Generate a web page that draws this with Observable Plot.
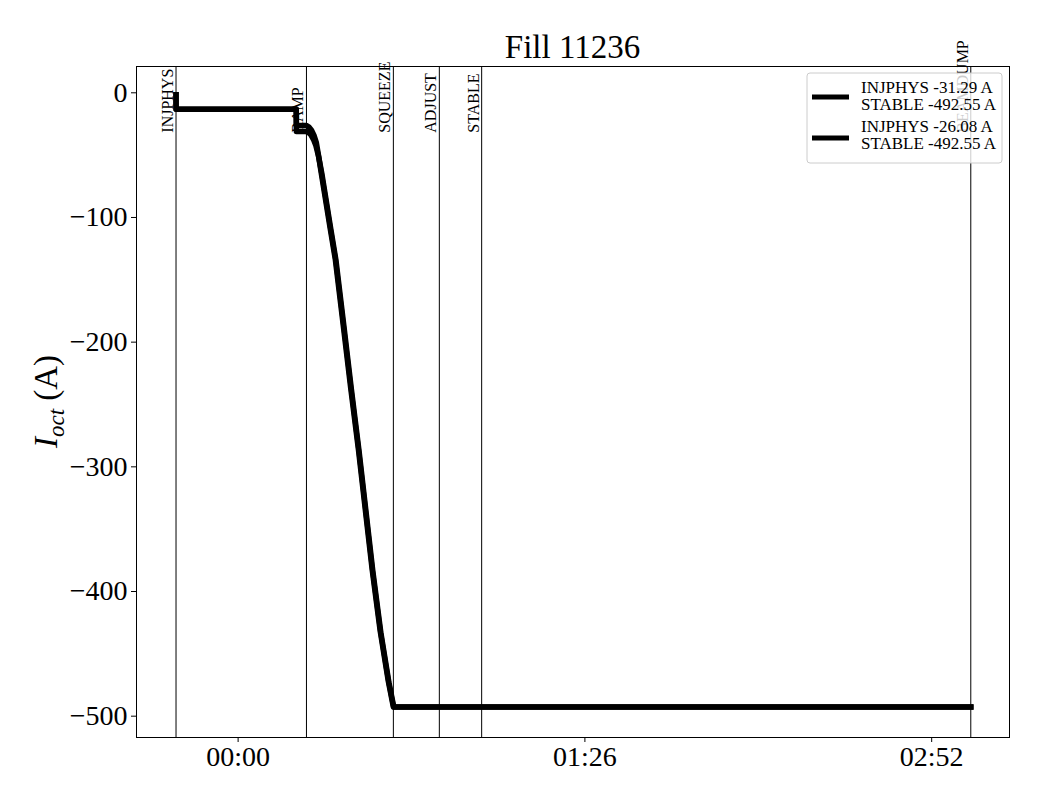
<!DOCTYPE html>
<html><head><meta charset="utf-8">
<script src="https://cdn.jsdelivr.net/npm/d3@7"></script>
<script src="https://cdn.jsdelivr.net/npm/@observablehq/plot@0.6"></script>
<style>
body{margin:0;background:#fff;}
#chart{position:relative;width:1040px;height:800px;}
</style></head><body><div id="chart"></div>
<script>
const title = "Fill 11236";
const eventNames = ["INJPHYS", "RAMP", "SQUEEZE", "ADJUST", "STABLE", "BEAMDUMP"];
const eventMinutes = [-15.4, 16.95, 38.5, 49.9, 60.4, 181.7];
const eventLabelValue = -32;
const seriesLabels = [["INJPHYS -31.29 A", "STABLE -492.55 A"], ["INJPHYS -26.08 A", "STABLE -492.55 A"]];
const seriesAMinutes = [-15.4, -15.38, 14.42, 14.45, 16.9, 17.5, 18.1, 18.7, 19.3, 19.95, 20.75, 21.75, 23.0, 24.25, 26.3, 28.1, 30.0, 31.7, 33.4, 35.4, 37.4, 38.6, 181.7];
const seriesAValues  = [-1.5, -13.2, -13.2, -31.0, -31.0, -32.0, -34.0, -37.5, -42.5, -51.0, -64.5, -84.5, -109.5, -134, -189, -238, -287.5, -335.5, -383.5, -433, -473, -492.55, -492.55];
const seriesBMinutes = [-15.4, -15.38, 14.42, 14.45, 16.9, 17.6, 18.2, 18.8, 19.4, 19.9, 20.6, 21.6, 22.85, 24.1, 26.15, 27.95, 29.85, 31.55, 33.25, 35.25, 37.25, 38.5, 181.7];
const seriesBValues  = [-1.5, -13.2, -13.2, -26.2, -26.2, -27.5, -30.0, -34.0, -40.0, -49.5, -64, -84, -109, -133.5, -188.5, -237.5, -286.5, -334.5, -382.5, -432, -472, -492.55, -492.55];
const xTickMinutes = [0, 86, 172];
const xTickLabels = ["00:00", "01:26", "02:52"];
const yTicks = [0, -100, -200, -300, -400, -500];

const rows = [
  ...seriesAMinutes.map((t, i) => ({t, v: seriesAValues[i], s: 0})),
  ...seriesBMinutes.map((t, i) => ({t, v: seriesBValues[i], s: 1}))
];
const events = eventNames.map((name, i) => ({name, t: eventMinutes[i]}));

const ML = 136, MR = 31, MT = 66, MB = 63, W = 1040, H = 800;
const font = "'Liberation Serif', 'DejaVu Serif', serif";

const plot = Plot.plot({
  width: W, height: H,
  marginLeft: ML, marginRight: MR, marginTop: MT, marginBottom: MB,
  style: {fontFamily: font, background: "white", color: "black", overflow: "visible"},
  x: {domain: [-25.2, 191.3]},
  y: {domain: [-517.1, 21.1]},
  marks: [
    Plot.ruleX(events, {x: "t", stroke: "black", strokeWidth: 1}),
    Plot.text(events, {x: "t", y: () => eventLabelValue, text: "name", rotate: -90, textAnchor: "start", lineAnchor: "bottom", dx: -3, fontSize: 16, fill: "black"}),
    Plot.line(rows, {x: "t", y: "v", z: "s", stroke: "black", strokeWidth: 5.5, strokeLinejoin: "round", strokeLinecap: "square"}),
    Plot.frame({stroke: "black", strokeWidth: 1}),
    Plot.axisX(xTickMinutes, {tickFormat: d => xTickLabels[xTickMinutes.indexOf(d)], tickSize: 5, tickPadding: 4, fontSize: 28, label: null}),
    Plot.axisY(yTicks, {tickFormat: d3.format("d"), tickSize: 5, tickPadding: 4, fontSize: 28, label: null})
  ]
});
document.getElementById("chart").appendChild(plot);

const svg = d3.select(plot);
svg.append("text")
  .attr("x", ML + (W - ML - MR) / 2).attr("y", 58)
  .attr("text-anchor", "middle").attr("font-size", 33).attr("font-family", font).attr("fill", "black")
  .text(title);

const yl = svg.append("text")
  .attr("transform", `translate(57,${MT + (H - MT - MB) / 2}) rotate(-90)`)
  .attr("text-anchor", "middle").attr("font-size", 33).attr("font-family", font).attr("fill", "black");
yl.append("tspan").attr("font-style", "italic").text("I");
yl.append("tspan").attr("font-style", "italic").attr("font-size", 23).attr("dy", 7).text("oct");
yl.append("tspan").attr("dy", -7).text(" (A)");

const lg = svg.append("g").attr("transform", "translate(807,73)");
lg.append("rect").attr("width", 195).attr("height", 90).attr("rx", 3)
  .attr("fill", "white").attr("fill-opacity", 0.8).attr("stroke", "#cccccc").attr("stroke-width", 1);
seriesLabels.forEach((lines, i) => {
  lg.append("line").attr("x1", 5).attr("x2", 42).attr("y1", 24 + i * 41).attr("y2", 24 + i * 41)
    .attr("stroke", "black").attr("stroke-width", 5);
  lines.forEach((s, j) => {
    lg.append("text").attr("x", 54).attr("y", 20 + i * 39 + j * 17).attr("text-anchor", "start")
      .attr("font-size", 17).attr("font-family", font).attr("fill", "black").text(s);
  });
});
</script></body></html>
